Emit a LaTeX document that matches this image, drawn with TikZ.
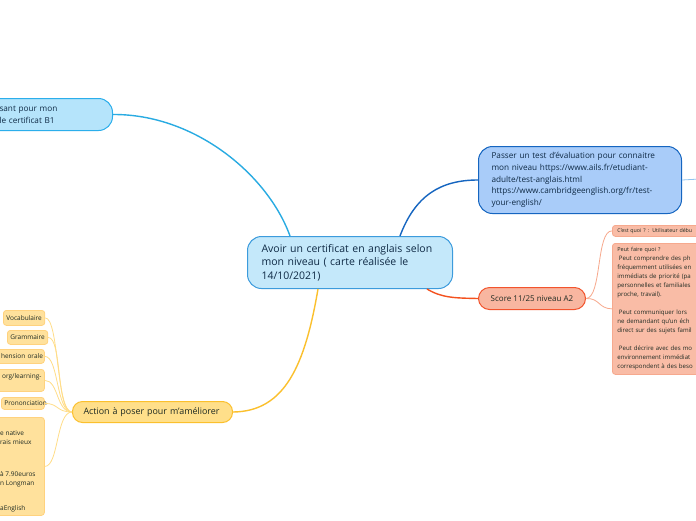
\documentclass[tikz,border=0pt]{standalone}
\usepackage{fontspec}
\setmainfont{Open Sans}
\usetikzlibrary{calc}
\definecolor{cenF}{HTML}{C4E8FA}
\definecolor{cenB}{HTML}{3C9BDC}
\definecolor{tlF}{HTML}{B5E4FB}
\definecolor{tlB}{HTML}{2BAEEB}
\definecolor{trF}{HTML}{A9CCF9}
\definecolor{trB}{HTML}{1565C0}
\definecolor{scF}{HTML}{F8B6A0}
\definecolor{scB}{HTML}{F2542D}
\definecolor{sbF}{HTML}{F9BCA6}
\definecolor{sbB}{HTML}{F6A98E}
\definecolor{acF}{HTML}{FFDF8A}
\definecolor{acB}{HTML}{FBC02D}
\definecolor{ybF}{HTML}{FFE19C}
\definecolor{ybB}{HTML}{FFD27E}
\definecolor{txN}{HTML}{0F2A45}
\definecolor{txD}{HTML}{1E2A22}
\definecolor{lnCy}{HTML}{29ABE2}
\definecolor{lnBl}{HTML}{1565C0}
\definecolor{lnOr}{HTML}{F4511E}
\definecolor{lnYe}{HTML}{FBC02D}
\definecolor{lnLb}{HTML}{90C4F0}
\definecolor{lnSa}{HTML}{F7A88C}
\definecolor{lnLy}{HTML}{FFDD88}
\tikzset{
  basebox/.style={anchor=north west, align=left, inner ysep=0pt, line width=1pt},
  centbox/.style={basebox, draw=cenB, fill=cenF, text=txN, rounded corners=14pt, inner xsep=14pt,
    font=\fontsize{10.5}{13.5}\selectfont},
  tlbox/.style={basebox, draw=tlB, fill=tlF, text=txN, rounded corners=14pt,
    font=\fontsize{8.2}{12}\selectfont},
  trbox/.style={basebox, draw=trB, fill=trF, text=txN, rounded corners=14pt, inner xsep=13pt,
    font=\fontsize{8.2}{11.6}\selectfont},
  scbox/.style={basebox, draw=scB, fill=scF, text=txD, rounded corners=11pt, inner xsep=12pt,
    font=\fontsize{8}{10}\selectfont},
  acbox/.style={basebox, draw=acB, fill=acF, text=txD, rounded corners=10pt, inner xsep=11pt,
    font=\fontsize{8.9}{10}\selectfont},
  sabox/.style={basebox, draw=sbB, fill=sbF, text=txD, rounded corners=3pt, inner xsep=5pt,
    line width=0.8pt, font=\fontsize{6.1}{9}\selectfont},
  yebox/.style={basebox, draw=ybB, fill=ybF, text=txD, rounded corners=3pt, inner xsep=3pt,
    line width=0.8pt, font=\fontsize{6.5}{9}\selectfont},
  ytext/.style={anchor=north west, inner sep=0pt, align=left, text=txD,
    font=\fontsize{6.5}{9.5}\selectfont},
  mainln/.style={line width=1.4pt},
  subln/.style={line width=0.8pt},
}
\begin{document}
\begin{tikzpicture}[x=1pt,y=-1pt]
\fill[white] (0,0) rectangle (696,520);
\useasboundingbox (0,0) rectangle (696,520);
\hyphenpenalty=10000 \exhyphenpenalty=10000

\coordinate (edge) at (700,179);

% main nodes
\node[centbox, minimum width=205pt, minimum height=52pt, text width=177pt] (c) at (247,236)
  {Avoir un certificat en anglais selon\\mon niveau ( carte réalisée le\\14/10/2021)};
\node[tlbox, minimum width=152pt, minimum height=32pt, text width=74pt, inner xsep=39pt] (tl) at (-40,98)
  {sant pour mon\\le certificat B1};
\node[trbox, minimum width=203pt, minimum height=67pt, text width=177pt] (tr) at (478,146)
  {Passer un test d'évaluation pour connaitre\\mon niveau https://www.ails.fr/etudiant-\\adulte/test-anglais.html\\https://www.cambridgeenglish.org/fr/test-\\your-english/};
\node[scbox, minimum width=107pt, minimum height=22pt] (s) at (478,287)
  {Score 11/25 niveau A2};
\node[acbox, minimum width=160pt, minimum height=21pt, text width=138pt] (a) at (72,401)
  {Action à poser pour m'améliorer};

% score children
\node[sabox, minimum width=100pt, minimum height=11pt, text width=90pt, font=\fontsize{5.3}{7}\selectfont] (q1) at (612,225)
  {C'est quoi ? : Utilisateur débu};
\node[sabox, minimum width=100pt, minimum height=131pt, text width=90pt] (q2) at (612,243)
  {{\fontsize{5.5}{9}\selectfont Peut faire quoi ?}\\
   \hspace*{1.5pt}Peut comprendre des ph\\
   fréquemment utilisées en\\
   immédiats de priorité (pa\\
   personnelles et familiales\\
   proche, travail).\\
   \mbox{}\\
   \hspace*{1.5pt}Peut communiquer lors\\
   ne demandant qu'un éch\\
   direct sur des sujets famil\\
   \mbox{}\\
   \hspace*{1.5pt}Peut décrire avec des mo\\
   environnement immédiat\\
   correspondent à des beso};

% action children
\node[yebox, minimum width=41pt, minimum height=15pt, align=center] (y1) at (3,310) {Vocabulaire};
\node[yebox, minimum width=37pt, minimum height=14pt, align=center] (y2) at (7,330) {Grammaire};
\node[yebox, minimum width=64pt, minimum height=14pt, text width=61pt, inner xsep=1.5pt, align=right] (y3) at (-20,349) {hension orale};
\node[yebox, minimum width=64pt, minimum height=22pt, text width=58pt, align=right] (y4) at (-20,369) {org/learning-\\\mbox{}};
\node[yebox, minimum width=43pt, minimum height=12pt, text width=37pt, align=right] (y5) at (1,397) {Prononciation};
\node[yebox, minimum width=74pt, minimum height=98pt] (y6) at (-30,417) {};
\node[ytext] (y6t) at (0,430.5)
  {e native\\rais mieux\\[22pt]à 7.90euros\\n Longman\\[15pt]aEnglish};

% connectors
\draw[mainln, lnCy] (tl.east) .. controls (195,114) and (268,175) .. ($(c.north west)+(43,0)$);
\draw[mainln, lnBl] ($(c.north west)+(153,0)$) .. controls (415,196) and (440,180) .. (tr.west);
\draw[mainln, lnOr] ($(c.south east)+(-26,0)$) .. controls (442,298) and (455,298) .. (s.west);
\draw[mainln, lnYe] ($(c.south west)+(71,0)$) .. controls (305,365) and (285,411.5) .. (a.east);
\draw[subln, lnLb] (tr.east) -- (edge);
\draw[subln, lnSa] (s.east) .. controls (602,298) and (596,230.5) .. (q1.west);
\draw[subln, lnSa] (s.east) .. controls (600,298) and (598,308.5) .. (q2.west);
\foreach \n in {y1,y2,y3,y4,y5,y6}
  \draw[subln, lnLy] (a.west) .. controls +(-16,0) and +(14,0) .. (\n.east);
\end{tikzpicture}
\end{document}
